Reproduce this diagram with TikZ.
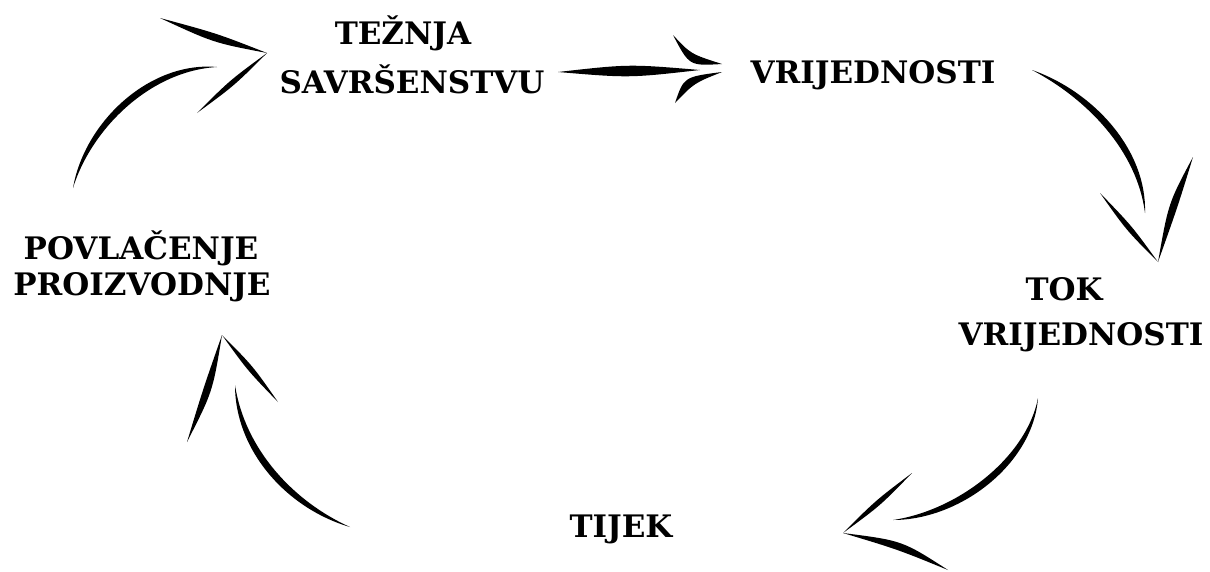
\documentclass[tikz,border=0pt]{standalone}
\usepackage{fontspec}
\setmainfont{DejaVu Serif}
\usetikzlibrary{calc}
% tapered brush stroke (quadratic): start, control, end, max width
\newcommand{\brushstroke}[4]{%
  \fill (#1) .. controls ($(#2)!#4!90:(#3)$) .. (#3)
             .. controls ($(#2)!#4!-90:(#3)$) .. (#1);}
% tapered brush stroke (cubic): start, control 1, control 2, end, half offset
\newcommand{\brushcurve}[5]{%
  \fill (#1) .. controls ($(#2)!#5!90:(#3)$) and ($(#3)!#5!90:(#4)$) .. (#4)
             .. controls ($(#3)!#5!-90:(#4)$) and ($(#2)!#5!-90:(#3)$) .. (#1);}
\tikzset{
  lbl/.style={anchor=base, inner sep=0pt, font=\bfseries\fontsize{31}{36}\selectfont},
}
\begin{document}
\begin{tikzpicture}[x=1pt,y=-1pt]
\useasboundingbox (0,0) rectangle (1210,571);
\fill[white] (0,0) rectangle (1210,571);

% labels
\node[lbl] (tez1) at (403,44) {TEŽNJA};
\node[lbl] (tez2) at (412,93) {SAVRŠENSTVU};
\node[lbl] (vri) at (873,83) {VRIJEDNOSTI};
\node[lbl] (tok1) at (1064,300) {TOK};
\node[lbl] (tok2) at (1081,345) {VRIJEDNOSTI};
\node[lbl] (tij) at (621,537) {TIJEK};
\node[lbl] (pov1) at (141,259) {POVLAČENJE};
\node[lbl] (pov2) at (142,295) {PROIZVODNJE};

% arrow 1: POVLACENJE -> TEZNJA
\brushcurve{73,188}{88,125}{150,66}{217,67}{5pt}
\brushstroke{160,18}{215,38}{267,53}{5pt}
\brushstroke{267,53}{232,83}{197,113}{3.5pt}

% arrow 2: TEZNJA -> VRIJEDNOSTI
\brushstroke{558,72}{629,71}{700,70}{7pt}
\brushstroke{673,35}{690,60}{722,64}{6pt}
\brushstroke{722,72}{689,80}{675,103}{6pt}

% arrow 3: VRIJEDNOSTI -> TOK VRIJEDNOSTI
\brushcurve{1032,70}{1090,95}{1142,150}{1145,213}{5pt}
\brushstroke{1100,193}{1129,228}{1158,262}{3.5pt}
\brushstroke{1158,262}{1173,205}{1193,157}{5pt}

% arrow 4: TOK VRIJEDNOSTI -> TIJEK
\brushcurve{1038,398}{1030,460}{960,515}{893,520}{5pt}
\brushstroke{912,473}{878,503}{843,533}{3.5pt}
\brushstroke{843,533}{900,545}{948,570}{5pt}

% arrow 5: TIJEK -> POVLACENJE
\brushcurve{350,527}{290,505}{240,450}{235,385}{5pt}
\brushstroke{222,335}{208,390}{187,442}{5pt}
\brushstroke{222,335}{250,368}{278,402}{3.5pt}
\end{tikzpicture}
\end{document}
